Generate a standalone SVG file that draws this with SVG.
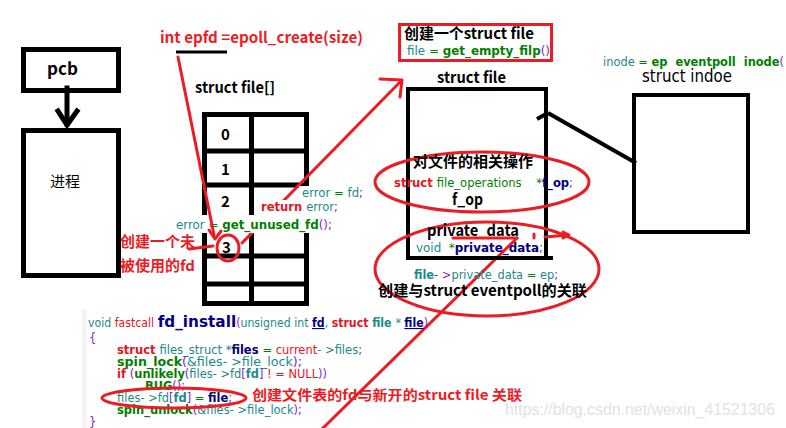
<svg xmlns="http://www.w3.org/2000/svg" width="786" height="428" viewBox="0 0 786 428">
<style>
.box{fill:none;stroke:#000;stroke-width:5}
.boxt{fill:none;stroke:#000;stroke-width:4}
.red{fill:none;stroke:#ec1c24;stroke-width:3;stroke-linecap:round;stroke-linejoin:round}
.blk{fill:none;stroke:#000;stroke-width:5;stroke-linecap:square}
.lbl{font-family:"Noto Sans CJK SC","Liberation Sans",sans-serif;font-weight:bold;fill:#000}
.rlbl{font-family:"Noto Sans CJK SC","Liberation Sans",sans-serif;font-weight:bold;fill:#ec1c24}
.code{font-family:"DejaVu Sans","Liberation Sans",sans-serif;font-size:11.5px;white-space:pre}
.t{fill:#1a8a8a}.g{fill:#008000}.gb{fill:#008000;font-weight:bold}.p{fill:#8a1ac8}.db{fill:#000080;font-weight:bold}.r{fill:#e8141c}.rb{fill:#e8141c;font-weight:bold}
.cover{fill:#fff}
</style>
<rect width="786" height="428" fill="#fff"/>

<g id="pcb">
<rect class="box" x="23.5" y="49.5" width="95" height="41"/>
<text class="lbl" x="47" y="75" font-size="17">pcb</text>
</g>

<g id="process">
<rect class="box" x="23.5" y="130.5" width="95" height="145"/>
<text x="50" y="187" font-size="15" font-family="Noto Sans CJK SC,sans-serif" fill="#000">进程</text>
</g>

<g id="epoll-create-label">
<text class="rlbl" x="160" y="43" font-size="15" textLength="203" lengthAdjust="spacingAndGlyphs">int epfd =epoll_create(size)</text>
<line x1="176" y1="52" x2="227" y2="52" stroke="#000" stroke-width="3"/>
</g>

<g id="fd-table">
<text class="lbl" x="195" y="93" font-size="15" textLength="80" lengthAdjust="spacingAndGlyphs">struct file[]</text>
<rect class="box" x="204.5" y="114.5" width="102" height="189"/>
<line class="box" x1="251.5" y1="114" x2="251.5" y2="303"/>
<line class="box" x1="204" y1="151" x2="307" y2="151"/>
<line class="box" x1="204" y1="185" x2="307" y2="185"/>
<line class="box" x1="204" y1="221" x2="307" y2="221"/>
<line class="box" x1="204" y1="256" x2="307" y2="256"/>
<line class="box" x1="204" y1="284" x2="307" y2="284"/>
<text class="lbl" x="221" y="140" font-size="15">0</text>
<text class="lbl" x="221" y="175" font-size="15">1</text>
<text class="lbl" x="221" y="207" font-size="15">2</text>
<text class="lbl" x="222" y="253" font-size="15">3</text>
</g>

<g id="connectors">
<line class="blk" x1="67" y1="88" x2="67" y2="124"/>
<polyline class="blk" points="58,111 67,125 77,111" stroke-linecap="butt"/>
<line class="red" x1="242" y1="243" x2="401" y2="81"/>
<polyline class="red" points="380,79 402,80 400,97"/>
</g>

<g id="code-overlays">
<rect class="cover" x="299" y="186" width="46" height="14"/>
<rect class="cover" x="258" y="200" width="87" height="15"/>
<rect class="cover" x="173" y="215" width="162" height="18"/>
<text class="code" x="302" y="197" textLength="61" lengthAdjust="spacingAndGlyphs"><tspan class="t">error </tspan><tspan class="g">= </tspan><tspan class="t">fd</tspan><tspan class="p">;</tspan></text>
<text class="code" x="261" y="211" font-size="12.5" textLength="77" lengthAdjust="spacingAndGlyphs"><tspan class="rb">return </tspan><tspan class="t">error</tspan><tspan class="p">;</tspan></text>
<text class="code" x="176" y="229" font-size="13" textLength="156" lengthAdjust="spacingAndGlyphs"><tspan class="t">error </tspan><tspan class="g">= </tspan><tspan class="gb">get_unused_fd</tspan><tspan class="p">();</tspan></text>
</g>

<g id="connectors-red">
<line class="red" x1="178" y1="57" x2="214" y2="235"/>
<polyline class="red" points="209,230 215,239 221,231"/>
<ellipse class="red" cx="228" cy="248" rx="11" ry="13" stroke-width="2.5"/>
<line class="red" x1="189" y1="249" x2="213" y2="246"/>
<line class="red" x1="321" y1="430" x2="517" y2="238"/>
</g>

<g id="unused-fd-label">
<text class="rlbl" x="120" y="247" font-size="14.5" textLength="75" lengthAdjust="spacingAndGlyphs">创建一个未</text>
<text class="rlbl" x="120" y="271" font-size="14.5" textLength="75" lengthAdjust="spacingAndGlyphs">被使用的fd</text>
</g>

<g id="create-file-box">
<rect x="399.5" y="24.5" width="152" height="36" fill="none" stroke="#ec1c24" stroke-width="3"/>
<text class="lbl" x="404" y="39" font-size="15" textLength="130" lengthAdjust="spacingAndGlyphs">创建一个struct file</text>
<text class="code" x="407" y="55" font-size="12.5" textLength="143" lengthAdjust="spacingAndGlyphs"><tspan class="t">file </tspan><tspan class="g">= </tspan><tspan class="gb">get_empty_filp</tspan><tspan class="p">()</tspan></text>
</g>

<g id="struct-file">
<text class="lbl" x="437" y="83" font-size="15" textLength="69" lengthAdjust="spacingAndGlyphs">struct file</text>
<rect class="boxt" x="408" y="89" width="138" height="169"/>
<line x1="546" y1="258" x2="553" y2="258" stroke="#000" stroke-width="4"/>
<ellipse class="red" cx="482" cy="182" rx="107" ry="30"/>
<text class="lbl" x="413" y="167" font-size="15" textLength="120" lengthAdjust="spacingAndGlyphs">对文件的相关操作</text>
<text class="code" x="394" y="187" font-size="12.5" textLength="179" lengthAdjust="spacingAndGlyphs"><tspan class="rb">struct </tspan><tspan class="g">file_operations    *</tspan><tspan class="db">f_op</tspan><tspan class="p">;</tspan></text>
<text class="lbl" x="452" y="205" font-size="16" textLength="31" lengthAdjust="spacingAndGlyphs">f_op</text>
<ellipse class="red" cx="487" cy="269" rx="112" ry="47"/>
<text class="lbl" x="427" y="236" font-size="16" textLength="92" lengthAdjust="spacingAndGlyphs">private_data</text>
<line class="red" x1="453" y1="238" x2="517" y2="238"/>
<line class="red" x1="534" y1="234" x2="534" y2="238"/>
<line class="red" x1="545" y1="237" x2="568" y2="235"/>
<polyline class="red" points="563,232 569,235 563,238" stroke-width="2"/>
<text class="code" x="416" y="252" font-size="12.5" textLength="127" lengthAdjust="spacingAndGlyphs"><tspan class="t">void  </tspan><tspan class="g">*</tspan><tspan class="db">private_data</tspan><tspan class="p">;</tspan></text>
<text class="code" x="414" y="279" font-size="12.5" textLength="144" lengthAdjust="spacingAndGlyphs"><tspan class="t" font-weight="bold">file</tspan><tspan class="p">- &gt;</tspan><tspan class="t">private_data </tspan><tspan class="g">= </tspan><tspan class="t">ep</tspan><tspan class="p">;</tspan></text>
<text class="lbl" x="378" y="296" font-size="15" textLength="209" lengthAdjust="spacingAndGlyphs">创建与struct eventpoll的关联</text>
</g>

<g id="file-inode-link">
<line x1="548" y1="113" x2="636" y2="163" stroke="#000" stroke-width="4"/>
<line x1="537" y1="119" x2="548" y2="113" stroke="#000" stroke-width="4"/>
</g>

<g id="struct-inode">
<text class="code" x="603" y="66" font-size="12.5" textLength="181" lengthAdjust="spacingAndGlyphs"><tspan class="t">inode </tspan><tspan class="g">= </tspan><tspan class="gb">ep  eventpoll  inode</tspan><tspan class="p">(</tspan></text>
<text x="642" y="82" font-size="17" font-family="DejaVu Sans,Liberation Sans,sans-serif" fill="#000" textLength="90" lengthAdjust="spacingAndGlyphs">struct indoe</text>
<rect class="boxt" x="634" y="95" width="114" height="137"/>
</g>

<g id="fd-install-code">
<rect x="82" y="309" width="5" height="119" fill="#f3f3f3"/>
<text class="code" x="88" y="327" textLength="340" lengthAdjust="spacingAndGlyphs"><tspan class="t">void </tspan><tspan class="r">fastcall </tspan><tspan class="db" font-size="16">fd_install</tspan><tspan class="p">(</tspan><tspan class="t">unsigned int </tspan><tspan class="db" text-decoration="underline">fd</tspan><tspan class="t">, </tspan><tspan class="rb">struct </tspan><tspan class="t" font-weight="bold">file </tspan><tspan class="t">* </tspan><tspan class="db" text-decoration="underline">file</tspan><tspan class="p">)</tspan></text>
<text class="code p" x="89" y="342" font-size="12.5">{</text>
<text class="code" x="117" y="354" textLength="245" lengthAdjust="spacingAndGlyphs"><tspan class="rb">struct </tspan><tspan class="t">files_struct *</tspan><tspan class="db">files </tspan><tspan class="g">= </tspan><tspan class="r">current</tspan><tspan class="t">- &gt;files</tspan><tspan class="p">;</tspan></text>
<text class="code" x="117" y="366" textLength="185" lengthAdjust="spacingAndGlyphs"><tspan class="gb">spin_lock</tspan><tspan class="p">(</tspan><tspan class="t">&amp;files- &gt;file_lock</tspan><tspan class="p">);</tspan></text>
<text class="code" x="117" y="378" textLength="210" lengthAdjust="spacingAndGlyphs"><tspan class="rb">if </tspan><tspan class="p">(</tspan><tspan class="gb">unlikely</tspan><tspan class="p">(</tspan><tspan class="t">files- &gt;fd</tspan><tspan class="p">[</tspan><tspan class="t" font-weight="bold">fd</tspan><tspan class="p">] </tspan><tspan class="r">! = NULL</tspan><tspan class="p">))</tspan></text>
<text class="code" x="145" y="390" textLength="40" lengthAdjust="spacingAndGlyphs"><tspan class="gb">BUG</tspan><tspan class="p">();</tspan></text>
<text class="code" x="117" y="402" textLength="115" lengthAdjust="spacingAndGlyphs"><tspan class="t">files- &gt;fd</tspan><tspan class="p">[</tspan><tspan class="t" font-weight="bold">fd</tspan><tspan class="p">] </tspan><tspan class="g">= </tspan><tspan class="db">file</tspan><tspan class="p">;</tspan></text>
<text class="code" x="117" y="414" textLength="185" lengthAdjust="spacingAndGlyphs"><tspan class="gb">spin_unlock</tspan><tspan class="p">(</tspan><tspan class="t">&amp;files- &gt;file_lock</tspan><tspan class="p">);</tspan></text>
<text class="code p" x="89" y="426" font-size="12.5">}</text>
<ellipse class="red" cx="174" cy="398" rx="72" ry="10"/>
<text class="rlbl" x="252" y="400" font-size="14" textLength="270" lengthAdjust="spacingAndGlyphs">创建文件表的fd与新开的struct file 关联</text>
</g>

<text x="505" y="415" font-size="16" font-family="Liberation Sans,sans-serif" fill="#e2e2e2" textLength="270" lengthAdjust="spacingAndGlyphs">https://blog.csdn.net/weixin_41521306</text>
</svg>
